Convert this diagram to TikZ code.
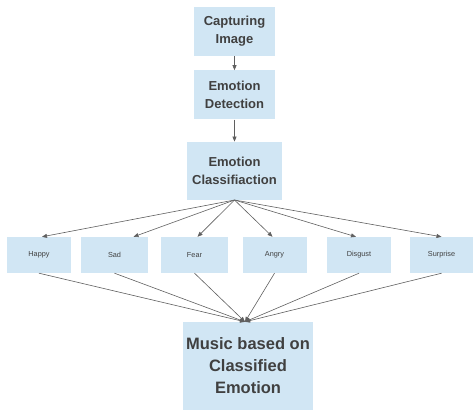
\documentclass[tikz,border=0pt]{standalone}
\usepackage{fontspec}
\setmainfont{Liberation Sans}
\usetikzlibrary{positioning,arrows.meta}
\definecolor{boxblue}{RGB}{209,230,244}
\definecolor{txtgray}{RGB}{64,64,64}
\definecolor{linegray}{RGB}{95,95,95}

\begin{document}
\begin{tikzpicture}[x=1pt, y=-1pt, node distance=14pt,
  main/.style = {fill=boxblue, text=txtgray, align=center, inner sep=0pt,
    font=\fontsize{13}{18}\selectfont\bfseries},
  emo/.style = {fill=boxblue, text=txtgray, inner sep=0pt, minimum width=64pt,
    minimum height=36pt, font=\fontsize{7.3}{9}\selectfont},
  arr/.style = {draw=linegray, line width=0.6pt, -{Triangle[length=5pt,width=4pt]}}]
\useasboundingbox (0,0) rectangle (473,410);
\node[main, minimum width=81pt, minimum height=49pt] (capture) at (234.5,31.5) {Capturing\\Image};
\node[main, minimum width=81pt, minimum height=49pt] (detect) [below=14pt of capture] {Emotion\\Detection};
\node[main, minimum width=95pt, minimum height=58pt] (classify) [below=22pt of detect] {Emotion\\Classifiaction};
\node[emo] (happy) at (39,255) {Happy};
\node[emo, minimum width=67pt] (sad) at (114.5,255) {Sad};
\node[emo, minimum width=67pt] (fear) at (194.5,255) {Fear};
\node[emo] (angry) at (274.5,255) {Angry};
\node[emo] (disgust) at (359,255) {Disgust};
\node[emo] (surprise) at (441.5,255) {Surprise};
\node[main, minimum width=130pt, minimum height=88pt,
  font=\fontsize{16.5}{22}\selectfont\bfseries] (music) at (248,366) {Music based on\\Classified\\Emotion};
\draw[arr] (capture) -- (detect);
\draw[arr] (detect) -- (classify);
\foreach \n/\s in {happy/3, sad/19, fear/3, angry/-2, disgust/-3, surprise/0}
  \draw[arr] (classify.south) -- ([xshift=\s pt]\n.north);
\foreach \n in {happy, sad, fear, angry, disgust, surprise}
  \draw[arr] (\n.south) -- ([xshift=-3pt]music.north);
\end{tikzpicture}
\end{document}
